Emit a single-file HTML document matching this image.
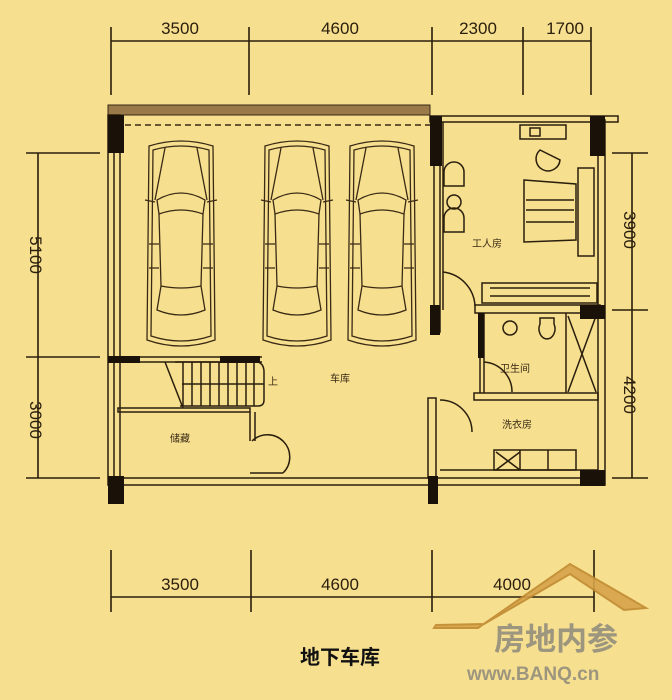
<!DOCTYPE html>
<html><head><meta charset="utf-8"><style>
html,body{margin:0;padding:0;background:#F7DF90;}
svg{display:block}
text{font-family:"Liberation Sans","Noto Sans CJK SC",sans-serif;}
</style></head><body>
<svg width="672" height="700" viewBox="0 0 672 700" xmlns="http://www.w3.org/2000/svg">
<rect width="672" height="700" fill="#F7DF90"/>
<defs>
<g id="car" fill="none" stroke="#3a2a14" stroke-width="1.3">
<path d="M4 6 Q36 -4 68 6 L70 200 Q36 212 2 200 Z"/>
<path d="M8 10 Q36 2 64 10 L66 196 Q36 206 6 196 Z"/>
<path d="M20 8 L10 60 M52 8 L62 60"/>
<path d="M12 60 Q36 46 60 60 L58 74 Q36 66 14 74 Z"/>
<path d="M14 74 L16 146 M58 74 L56 146"/>
<path d="M16 146 Q36 150 56 146 L60 170 Q36 180 12 170 Z"/>
<path d="M0 60 L10 62 M62 62 L72 60"/>
<path d="M4 104 L14 104 M58 104 L68 104 M4 128 L14 128 M58 128 L68 128"/>
</g>
</defs>
<g stroke="#2a1e0c" stroke-width="1.6" fill="none">
<line x1="111" y1="41" x2="591" y2="41"/>
<line x1="111" y1="27" x2="111" y2="95"/><line x1="249" y1="27" x2="249" y2="95"/><line x1="432" y1="27" x2="432" y2="95"/><line x1="523" y1="27" x2="523" y2="95"/><line x1="591" y1="27" x2="591" y2="95"/>
<line x1="111" y1="597" x2="594" y2="597"/>
<line x1="111" y1="550" x2="111" y2="612"/><line x1="251" y1="550" x2="251" y2="612"/><line x1="432" y1="550" x2="432" y2="612"/><line x1="594" y1="550" x2="594" y2="612"/>
<line x1="38" y1="153" x2="38" y2="478"/>
<line x1="26" y1="153" x2="100" y2="153"/><line x1="26" y1="357" x2="100" y2="357"/><line x1="26" y1="478" x2="100" y2="478"/>
<line x1="632" y1="153" x2="632" y2="478"/>
<line x1="612" y1="153" x2="648" y2="153"/><line x1="612" y1="310" x2="648" y2="310"/><line x1="612" y1="478" x2="648" y2="478"/>
</g>
<g font-size="17" fill="#2a1e0c" text-anchor="middle">
<text x="180" y="34">3500</text>
<text x="340" y="34">4600</text>
<text x="478" y="34">2300</text>
<text x="565" y="34">1700</text>
<text x="180" y="590">3500</text>
<text x="340" y="590">4600</text>
<text x="512" y="590">4000</text>
<text transform="translate(30,255) rotate(90)">5100</text>
<text transform="translate(30,420) rotate(90)">3000</text>
<text transform="translate(624,230) rotate(90)">3900</text>
<text transform="translate(624,395) rotate(90)">4200</text>
</g>
<rect x="108" y="105" width="322" height="10" fill="#9a7a48" stroke="#3a2a14"/>
<line x1="125" y1="125" x2="430" y2="125" stroke="#3a2a14" stroke-width="1.5" stroke-dasharray="6,4"/>
<g fill="none" stroke="#2a1e0c" stroke-width="1.5">
<rect x="108" y="115" width="12" height="370"/>
<line x1="114" y1="140" x2="114" y2="485"/>
<rect x="430" y="116" width="188" height="6"/>
<rect x="598" y="120" width="7" height="365"/>
<rect x="120" y="478" width="480" height="7"/>
<line x1="120" y1="357" x2="262" y2="357"/><line x1="120" y1="362" x2="262" y2="362"/>
<rect x="118" y="408" width="132" height="4"/>
<line x1="250" y1="412" x2="250" y2="441"/><line x1="255" y1="412" x2="255" y2="441"/>
<path d="M252 441 A22 22 0 0 1 283 473" /><line x1="250" y1="473" x2="283" y2="473"/>
<path d="M165 362 L183 408"/>
<path d="M175 362 L258 362 Q264 364 264 372 L264 400 Q264 406 258 406 L180 406"/>
<line x1="182" y1="384" x2="264" y2="384"/>
<path d="M183 362v44M192 362v44M201 362v44M210 362v44M219 362v44M228 362v44M237 362v44M246 362v44M254 362v44"/>
<rect x="434" y="122" width="6" height="210"/>
<line x1="443" y1="122" x2="443" y2="310"/>
<path d="M443 272 A36 36 0 0 1 475 306"/>
<rect x="475" y="305" width="125" height="8"/>
<rect x="482" y="283" width="115" height="20"/>
<path d="M490 288h100M490 296h100"/>
<line x1="480" y1="313" x2="480" y2="393"/><line x1="484" y1="313" x2="484" y2="393"/>
<path d="M484 362 A30 30 0 0 1 512 392"/>
<rect x="474" y="393" width="124" height="7"/>
<line x1="566" y1="313" x2="566" y2="393"/>
<path d="M568 316 L596 392 M596 316 L568 392"/>
<rect x="428" y="398" width="8" height="80"/>
<path d="M440 400 A32 32 0 0 1 472 432"/>
<rect x="494" y="450" width="82" height="20"/>
<path d="M496 452 L520 470 M520 452 L496 470"/><line x1="520" y1="450" x2="520" y2="470"/><line x1="548" y1="450" x2="548" y2="470"/>
<line x1="440" y1="470" x2="598" y2="470"/>
<rect x="520" y="125" width="46" height="14"/><rect x="530" y="128" width="10" height="8"/>
<path d="M540 150 A12 12 0 1 0 560 160 Z"/>
<path d="M524 180 L576 184 L576 240 L524 242 Z"/>
<path d="M526 200h48M526 210h48M526 222h48"/>
<rect x="578" y="168" width="16" height="88"/>
<path d="M444 172 a10 10 0 0 1 20 0 v14 h-20z M444 218 a10 10 0 0 1 20 0 v14 h-20z"/>
<circle cx="454" cy="202" r="7"/>
<circle cx="510" cy="328" r="7"/><path d="M540 318 h14 v6 a8 10 0 1 1 -14 0z"/>
</g>
<g fill="#1a1208">
<rect x="108" y="115" width="16" height="38"/>
<rect x="430" y="116" width="12" height="50"/>
<rect x="430" y="305" width="10" height="30"/>
<rect x="590" y="116" width="15" height="40"/>
<rect x="580" y="305" width="25" height="14"/>
<rect x="108" y="356" width="32" height="7"/><rect x="220" y="356" width="40" height="7"/>
<rect x="108" y="476" width="16" height="28"/>
<rect x="428" y="476" width="10" height="28"/>
<rect x="580" y="470" width="25" height="16"/>
<rect x="478" y="313" width="6" height="45"/>
</g>
<use href="#car" x="145" y="140"/>
<use href="#car" x="261" y="140"/>
<use href="#car" x="346" y="140"/>
<g font-size="10" fill="#3a2a14">
<text x="472" y="247">工人房</text>
<text x="330" y="382">车库</text>
<text x="170" y="442">储藏</text>
<text x="500" y="372">卫生间</text>
<text x="502" y="428">洗衣房</text>
<text x="268" y="385">上</text>
</g>
<text x="340" y="664" font-size="20" font-weight="bold" text-anchor="middle" fill="#111">地下车库</text>
<path d="M434 628 L478 628 L570 564 L646 608 L624 610 L570 574 L484 624 L436 625 Z" fill="#d6a34a" stroke="#c08a30" stroke-width="2" opacity="0.9"/>
<text x="494" y="650" font-size="31" font-weight="bold" fill="#8e8a7c" opacity="0.85">房地内参</text>
<text x="467" y="680" font-size="19" font-weight="bold" fill="#8e8a7c" opacity="0.85">www.BANQ.cn</text>
</svg>
</body></html>
